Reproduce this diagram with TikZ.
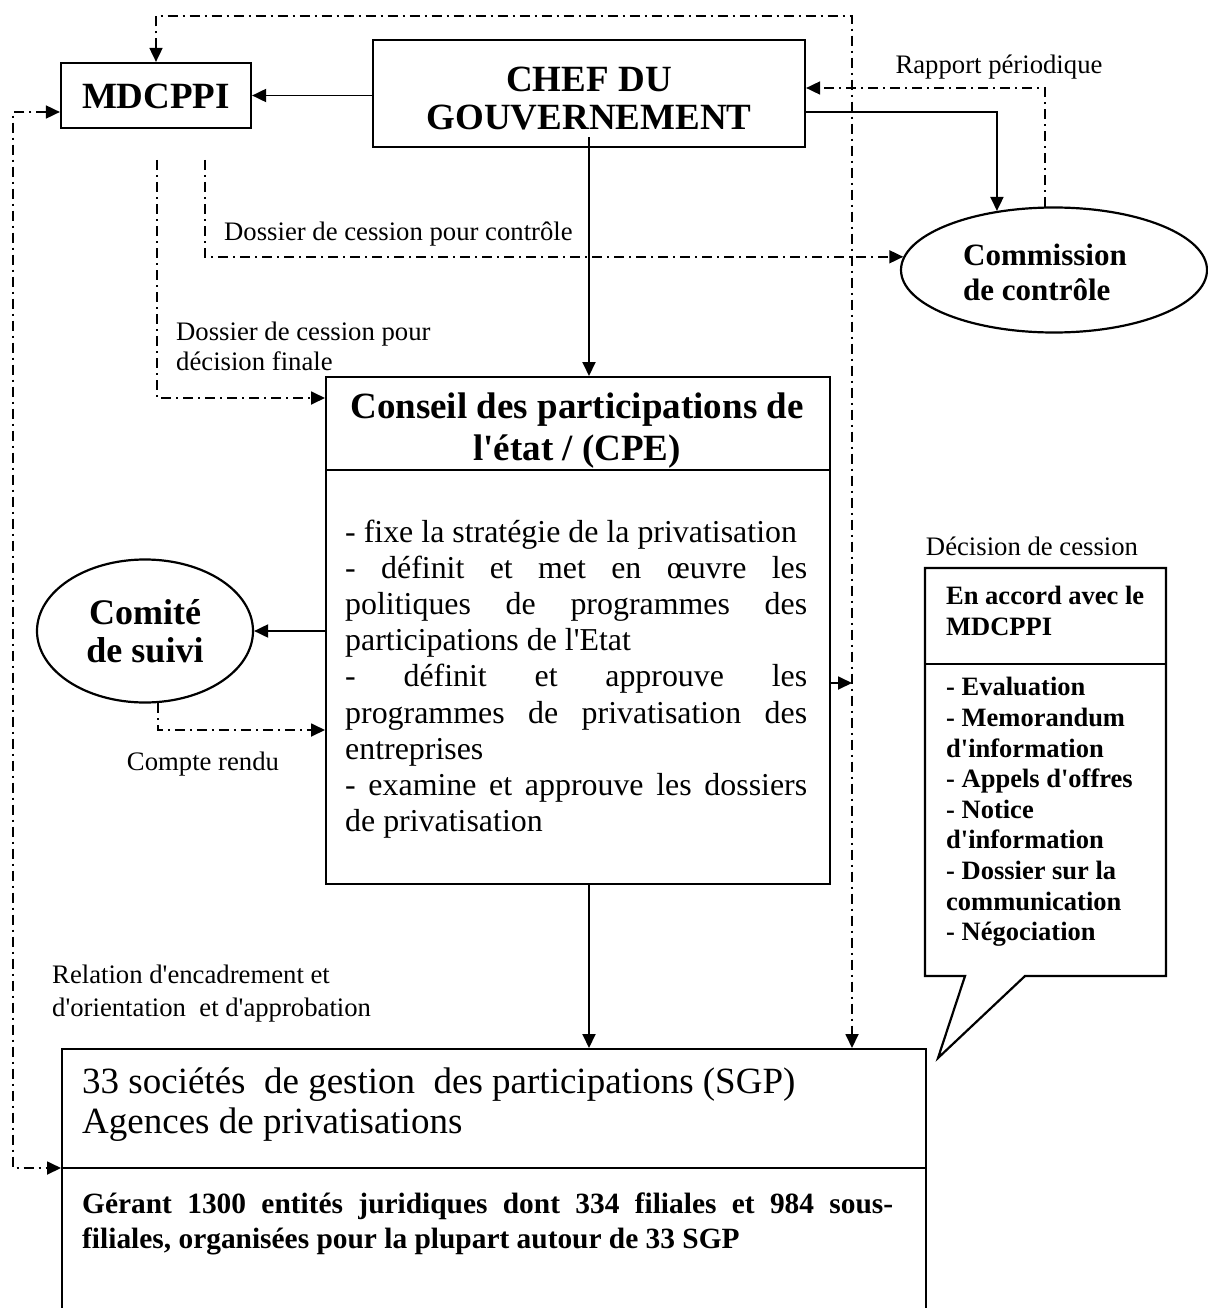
\documentclass[tikz,border=0pt]{standalone}
\usepackage{fontspec}
\setmainfont{Liberation Serif}[Ligatures={TeXOff,CommonOff}]
\usetikzlibrary{arrows.meta,shapes.geometric}

\begin{document}
\begin{tikzpicture}[x=1pt,y=-1pt,
  box/.style={draw,line width=2.2pt},
  link/.style={line width=1.9pt},
  dd/.style={line width=1.8pt,dash pattern=on 10pt off 5pt on 2pt off 5pt},
  tip/.style={-{Triangle[length=14pt,width=13pt]}},
  both/.style={{Triangle[length=14pt,width=13pt]}-{Triangle[length=14pt,width=13pt]}},
  big/.style={inner sep=0pt,font=\fontsize{37}{38}\selectfont\bfseries},
  lbl/.style={inner sep=0pt,font=\fontsize{26.7}{30}\selectfont},
  decfont/.style={inner sep=0pt,font=\fontsize{26.5}{30.6}\selectfont\bfseries}]

\useasboundingbox (0,0) rectangle (1207,1308);

% --- main boxes -------------------------------------------------------
\node[box,minimum width=190pt,minimum height=65pt,inner sep=0pt] (mdcppi) at (156,95.5) {};
\node[big] at (156,96) {MDCPPI};

\node[box,minimum width=432pt,minimum height=107pt,inner sep=0pt] (chef) at (589,93.5) {};
\node[big,align=center] at (589,99) {CHEF DU\\GOUVERNEMENT};

\node[box,ellipse,minimum width=306pt,minimum height=125pt,inner sep=0pt] (comm) at (1054,270) {};
\node[inner sep=0pt,font=\fontsize{31}{35}\selectfont\bfseries,align=left,anchor=west]
  (commlbl) at (963,272.5) {Commission\\de contrôle};

\node[box,ellipse,minimum width=216pt,minimum height=143pt,inner sep=0pt,
  font=\fontsize{36}{38}\selectfont\bfseries,align=center] (comite) at (145,631) {Comité\\de suivi};

% Conseil des participations de l'état
\node[box,anchor=north west,minimum width=504pt,minimum height=507pt,inner sep=0pt] (cpe) at (325,376) {};
\draw[box] (cpe.north west |- 0,470) -- (cpe.north east |- 0,470);
\node[inner sep=0pt,font=\fontsize{37}{42}\selectfont\bfseries,align=center] (cpetitle) at (577,431)
  {Conseil des participations de\\l'état / (CPE)};
\node[inner sep=0pt,font=\fontsize{31.9}{36.2}\selectfont,align=left,anchor=west] (cpebody) at (345,679)
  {- fixe la stratégie de la privatisation\\
   \makebox[462pt][s]{- définit et met en œuvre les}\\
   \makebox[462pt][s]{politiques de programmes des}\\
   participations de l'Etat\\
   \makebox[462pt][s]{- définit et approuve les}\\
   \makebox[462pt][s]{programmes de privatisation des}\\
   entreprises\\
   \makebox[462pt][s]{- examine et approuve les dossiers}\\
   de privatisation};

% Décision de cession (callout)
\draw[box,line join=miter] (925,568) -- (1166,568) -- (1166,976) -- (1025,976)
  -- (938,1058) -- (965,976) -- (925,976) -- cycle;
\draw[box] (925,664) -- (1166,664);
\node[decfont,align=left,anchor=west] (dechead) at (946,611) {En accord avec le\\MDCPPI};
\node[decfont,align=left,anchor=west] (declist) at (946,812)
  {- Evaluation\\- Memorandum\\d'information\\- Appels d'offres\\- Notice\\d'information\\- Dossier sur la\\communication\\- Négociation};
\node[lbl] (declbl) at (1032,546) {Décision de cession};

% Sociétés de gestion des participations
\node[box,anchor=north west,minimum width=864pt,minimum height=290pt,inner sep=0pt] (sgp) at (61,1048) {};
\coordinate (sgpdiv) at (61,1168);
\draw[box] (sgpdiv) -- (sgp.east |- sgpdiv);
\node[inner sep=0pt,font=\fontsize{37}{40}\selectfont,align=left,anchor=west] (sgptitle) at (82,1105)
  {33 sociétés\ \ de gestion\ \ des participations (SGP)\\Agences de privatisations};
\node[inner sep=0pt,font=\fontsize{29.4}{35}\selectfont\bfseries,align=left,anchor=west] (sgpbody) at (82,1224)
  {\makebox[811pt][s]{Gérant 1300 entités juridiques dont 334 filiales et 984 sous-}\\
   filiales, organisées pour la plupart autour de 33 SGP};

% --- connectors -------------------------------------------------------
\draw[link,tip] (chef.west |- mdcppi.east) -- (mdcppi.east);
\draw[link,tip] ([yshift=-18.5pt]chef.east) -| (comm.134);
\draw[dd,tip] (comm.98) |- ([yshift=5.5pt]chef.east);
\node[lbl] (rapport) at (999,67) {Rapport périodique};

\draw[link,tip] ([yshift=11pt]chef.south) -- (cpe.north -| chef.south);
\draw[link,tip] (cpe.south -| chef.south) -- (sgp.north -| chef.south);

% distribution line on the right
\coordinate (busR) at (852,683);
\draw[dd,both] (mdcppi.north) |- (busR |- 0,16) -- (sgp.north -| busR);
\draw[dd,tip] (cpe.east |- busR) -- (busR);

% return line on the left
\draw[dd,both] ([yshift=-16.5pt]mdcppi.west) -| (13,640) |- (sgpdiv);

% dossiers de cession
\coordinate (dctl) at (205,160);
\coordinate (dfin) at (157,160);
\draw[dd,tip] (dctl) |- (comm.175);
\node[lbl,anchor=west] (lctl) at (224,234) {Dossier de cession pour contrôle};
\draw[dd,tip] (dfin) |- (cpe.west |- 0,398);
\node[lbl,align=left,anchor=west] (lfin) at (176,346) {Dossier de cession pour\\décision finale};

% comité de suivi
\draw[link,tip] (cpe.west |- comite.east) -- (comite.east);
\draw[dd,tip] (comite.280) |- (cpe.west |- 0,730);
\node[lbl] (lcr) at (203,764) {Compte rendu};

\node[lbl,align=left,anchor=west,font=\fontsize{26.7}{33}\selectfont] (lrel) at (52,994)
  {Relation d'encadrement et\\d'orientation\ \ et d'approbation};
\end{tikzpicture}
\end{document}
